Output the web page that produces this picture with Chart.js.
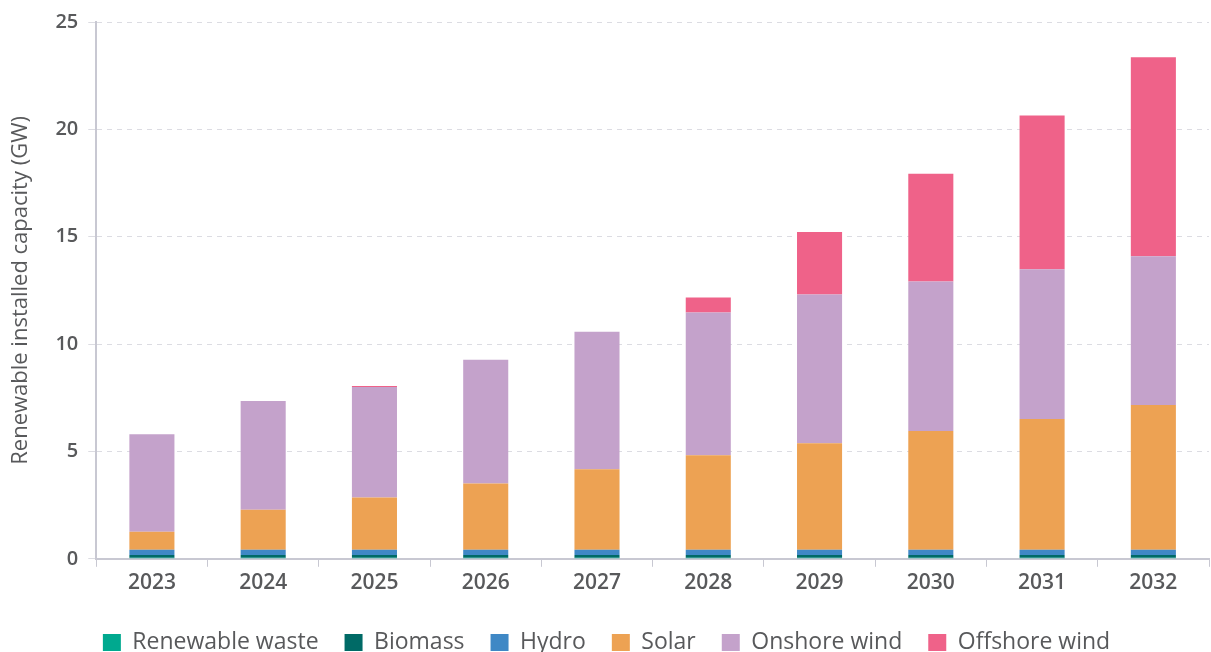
<!DOCTYPE html>
<html lang="en">
<head>
  <meta charset="UTF-8">
  <title>Renewable installed capacity</title>
  <script src="https://cdn.jsdelivr.net/npm/chart.js"></script>
  <style>
    html, body { margin: 0; padding: 0; background: #fff; }
    .wrap { width: 1211px; height: 652px; }
  </style>
</head>
<body>
  <div class="wrap"><canvas id="chart"></canvas></div>
  <script>
    const years = ['2023', '2024', '2025', '2026', '2027', '2028', '2029', '2030', '2031', '2032'];
    const wasteGW    = [0.05, 0.05, 0.05, 0.05, 0.05, 0.05, 0.05, 0.05, 0.05, 0.05];
    const biomassGW  = [0.13, 0.13, 0.13, 0.13, 0.13, 0.13, 0.13, 0.13, 0.13, 0.13];
    const hydroGW    = [0.24, 0.24, 0.24, 0.24, 0.24, 0.24, 0.24, 0.24, 0.24, 0.24];
    const solarGW    = [0.84, 1.87, 2.44, 3.09, 3.75, 4.40, 4.96, 5.53, 6.09, 6.74];
    const onshoreGW  = [4.54, 5.06, 5.14, 5.76, 6.41, 6.65, 6.93, 6.97, 6.97, 6.93];
    const offshoreGW = [0, 0, 0.05, 0, 0, 0.70, 2.91, 5.01, 7.17, 9.27];
    const yTicks = [0, 5, 10, 15, 20, 25];

    const textColor = '#58595b';
    const fontFamily = '"Open Sans", Lato, sans-serif';

    function series(label, data, color) {
      return { label: label, data: data, backgroundColor: color, borderWidth: 0,
               categoryPercentage: 1, barPercentage: 0.405 };
    }

    new Chart(document.getElementById('chart'), {
      type: 'bar',
      data: {
        labels: years,
        datasets: [
          series('Renewable waste', wasteGW, '#00a98f'),
          series('Biomass', biomassGW, '#006a66'),
          series('Hydro', hydroGW, '#3f88c5'),
          series('Solar', solarGW, '#eda253'),
          series('Onshore wind', onshoreGW, '#c4a2cb'),
          series('Offshore wind', offshoreGW, '#ef6289')
        ]
      },
      options: {
        responsive: true,
        maintainAspectRatio: false,
        animation: false,
        layout: { padding: { top: 14, right: 2, left: 4, bottom: -12 } },
        plugins: {
          tooltip: { enabled: false },
          legend: {
            position: 'bottom',
            align: 'center',
            labels: {
              color: textColor,
              boxWidth: 18,
              boxHeight: 17,
              padding: 26,
              font: { family: fontFamily, size: 23, weight: '500' }
            }
          }
        },
        scales: {
          x: {
            stacked: true,
            afterFit: scale => { scale.height += 5; },
            grid: { display: true, drawOnChartArea: false, drawTicks: true, tickLength: 8, color: '#c8c8d2', offset: true },
            border: { color: '#c8c8d2', width: 2 },
            ticks: { color: textColor, padding: 4, font: { family: fontFamily, size: 21, weight: '600' } }
          },
          y: {
            stacked: true,
            min: 0,
            max: 25,
            afterBuildTicks: axis => { axis.ticks = yTicks.map(v => ({ value: v })); },
            grid: { color: '#dcdce2', tickLength: 8, lineWidth: 1 },
            border: { color: '#c8c8d2', width: 2, dash: [5, 5] },
            ticks: { color: textColor, padding: 10, font: { family: fontFamily, size: 20, weight: '600' } },
            title: {
              display: true,
              text: 'Renewable installed capacity (GW)',
              color: textColor,
              padding: { bottom: 11 },
              font: { family: fontFamily, size: 22, weight: '500' }
            }
          }
        }
      }
    });
  </script>
</body>
</html>
